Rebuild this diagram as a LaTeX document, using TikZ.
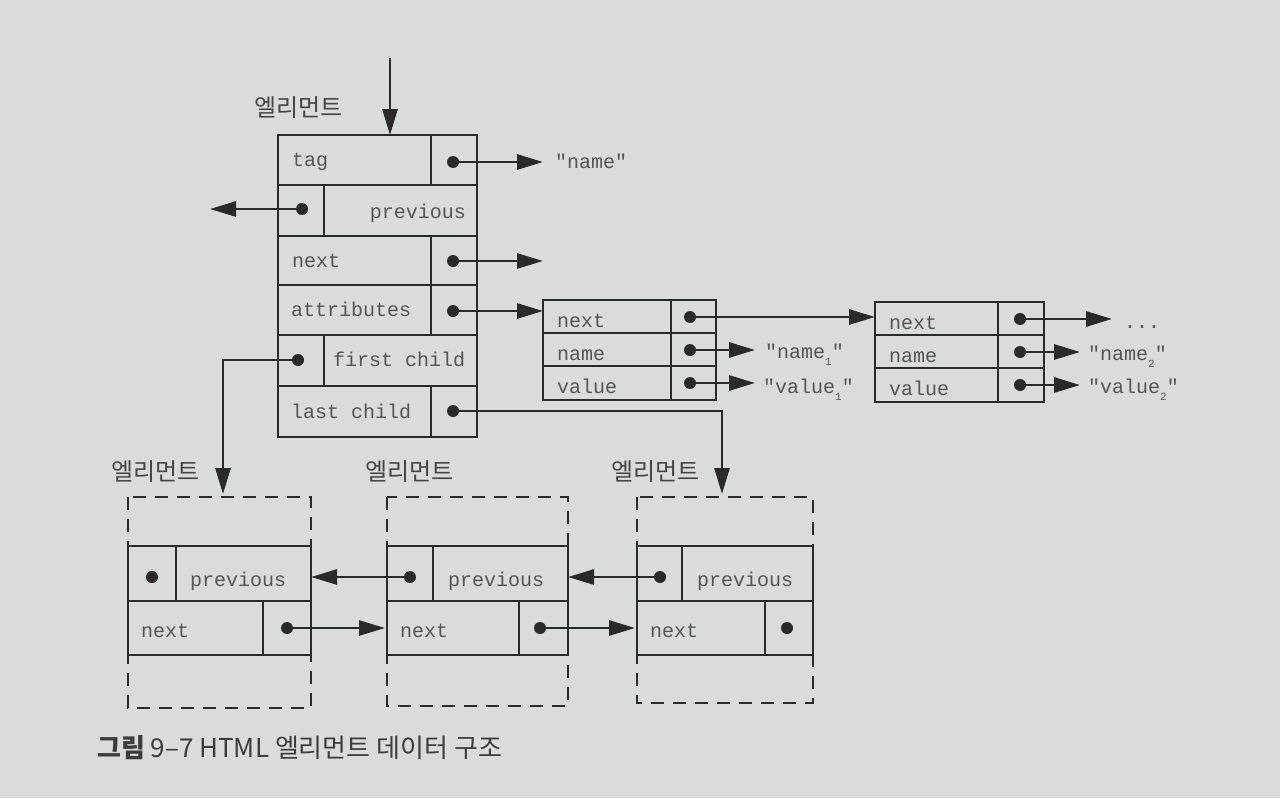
\documentclass[tikz,border=0pt]{standalone}
\usepackage{fontspec}
\setmonofont{Liberation Mono}
\newfontfamily\kr{Noto Sans CJK KR}
\usetikzlibrary{arrows.meta}
\definecolor{paper}{HTML}{D8DCDB}
\definecolor{ink}{HTML}{2A2A2A}
\definecolor{txt}{HTML}{555555}
\newcommand{\lowsub}[1]{\raisebox{-7pt}{\fontsize{11}{11}\selectfont #1}}
\begin{document}
\begin{tikzpicture}[x=1pt,y=-1pt,
  box/.style={draw=ink, line width=2.8pt},
  dbox/.style={draw=ink, line width=2.8pt, dash pattern=on 13pt off 9pt},
  lbl/.style={font=\ttfamily\fontsize{20}{20}\selectfont, text=txt, inner sep=0pt, anchor=base west},
  lblr/.style={lbl, anchor=base east},
  ptr/.style={draw=ink, line width=2.8pt, -{Triangle[length=26pt,width=15pt]}},
  dotc/.style={circle, fill=ink, inner sep=0pt, minimum size=12pt},
  kor/.style={font=\kr\fontsize{24}{24}\selectfont, text=ink!85!paper, inner sep=0pt, anchor=west}]

\fill[paper] (0,0) rectangle (1280,798);
\useasboundingbox (0,0) rectangle (1280,798);

% ---------- main element ----------
\node[kor] (mainlbl) at (254,108) {엘리먼트};
\draw[box] (278,135) rectangle (477,437);
\foreach \yy in {185,236,285,335,386} \draw[box] (278,\yy) -- (477,\yy);
\draw[box] (431,135) -- (431,185);
\draw[box] (324,185) -- (324,236);
\draw[box] (431,236) -- (431,335);
\draw[box] (324,335) -- (324,386);
\draw[box] (431,386) -- (431,437);
\node[lbl]  (ttag)   at (292,166) {tag};
\node[lblr] (tprev)  at (466,218) {previous};
\node[lbl]  (tnext)  at (292,267) {next};
\node[lbl]  (tattr)  at (291,316) {attributes};
\node[lbl]  (tfirst) at (333,366) {first child};
\node[lbl]  (tlast)  at (291,418) {last child};

\coordinate (entry) at (390,58);
\coordinate (maintop) at (390,135);
\draw[ptr] (entry) -- (maintop);

\node[dotc] (dtag)   at (453,162) {};
\node[dotc] (dprev)  at (302,209) {};
\node[dotc] (dnext)  at (453,261) {};
\node[dotc] (dattr)  at (453,311) {};
\node[dotc] (dfirst) at (298,360) {};
\node[dotc] (dlast)  at (453,411) {};

\node[lbl] (sname) at (555,168) {"name"};
\coordinate (tagend) at (543,162);
\draw[ptr] (dtag.center) -- (tagend);
\coordinate (prevend) at (210,209);
\draw[ptr] (dprev.center) -- (prevend);
\coordinate (nextend) at (543,261);
\draw[ptr] (dnext.center) -- (nextend);

% ---------- attribute 1 ----------
\draw[box] (543,300) rectangle (716,400);
\draw[box] (543,333) -- (716,333);
\draw[box] (543,366) -- (716,366);
\draw[box] (671,300) -- (671,400);
\node[lbl] (a1n) at (557,327) {next};
\node[lbl] (a1m) at (557,360) {name};
\node[lbl] (a1v) at (557,393) {value};
\node[dotc] (a1dn) at (690,317) {};
\node[dotc] (a1dm) at (690,350) {};
\node[dotc] (a1dv) at (690,383) {};
\coordinate (attrend) at (543,311);
\draw[ptr] (dattr.center) -- (attrend);
\node[lbl] (q1m) at (765,358) {"name\lowsub{1}"};
\node[lbl] (q1v) at (763,393) {"value\lowsub{1}"};
\draw[ptr] (a1dm.center) -- ([xshift=-10pt]q1m.west |- a1dm);
\draw[ptr] (a1dv.center) -- ([xshift=-8pt]q1v.west |- a1dv);

% ---------- attribute 2 ----------
\draw[box] (875,302) rectangle (1044,402);
\draw[box] (875,335) -- (1044,335);
\draw[box] (875,368) -- (1044,368);
\draw[box] (998,302) -- (998,402);
\node[lbl] (a2n) at (889,329) {next};
\node[lbl] (a2m) at (889,362) {name};
\node[lbl] (a2v) at (889,395) {value};
\node[dotc] (a2dn) at (1020,319) {};
\node[dotc] (a2dm) at (1020,352) {};
\node[dotc] (a2dv) at (1020,385) {};
\coordinate (a2left) at (875,317);
\draw[ptr] (a1dn.center) -- (a2left);
\node[lbl] (dots) at (1124,328) {...};
\node[lbl] (q2m) at (1088,360) {"name\lowsub{2}"};
\node[lbl] (q2v) at (1088,393) {"value\lowsub{2}"};
\coordinate (a2nend) at (1112,319);
\draw[ptr] (a2dn.center) -- (a2nend);
\draw[ptr] (a2dm.center) -- ([xshift=-8pt]q2m.west |- a2dm);
\draw[ptr] (a2dv.center) -- ([xshift=-8pt]q2v.west |- a2dv);

% ---------- child elements ----------
\node[kor] (c1lbl) at (111,472) {엘리먼트};
\node[kor] (c2lbl) at (365,472) {엘리먼트};
\node[kor] (c3lbl) at (611,472) {엘리먼트};

\draw[dbox] (128,497) rectangle (311,708);
\draw[dbox] (387,497) rectangle (568,706);
\draw[dbox] (637,497) rectangle (813,703);

\draw[box] (128,546) rectangle (311,655);
\draw[box] (128,601) -- (311,601);
\draw[box] (176,546) -- (176,601);
\draw[box] (263,601) -- (263,655);

\draw[box] (387,546) rectangle (568,655);
\draw[box] (387,601) -- (568,601);
\draw[box] (433,546) -- (433,601);
\draw[box] (519,601) -- (519,655);

\draw[box] (637,546) rectangle (813,655);
\draw[box] (637,601) -- (813,601);
\draw[box] (682,546) -- (682,601);
\draw[box] (765,601) -- (765,655);

\node[lbl] (c1p) at (190,586) {previous};
\node[lbl] (c2p) at (448,586) {previous};
\node[lbl] (c3p) at (697,586) {previous};
\node[lbl] (c1n) at (141,637) {next};
\node[lbl] (c2n) at (400,637) {next};
\node[lbl] (c3n) at (650,637) {next};

\node[dotc] (c1dp) at (152,577) {};
\node[dotc] (c2dp) at (410,577) {};
\node[dotc] (c3dp) at (660,577) {};
\node[dotc] (c1dn) at (287,628) {};
\node[dotc] (c2dn) at (540,628) {};
\node[dotc] (c3dn) at (787,628) {};

\coordinate (c1r) at (311,577);
\coordinate (c2r) at (568,577);
\coordinate (c2l) at (385,628);
\coordinate (c3l) at (635,628);
\draw[ptr] (c1dn.center) -- (c2l);
\draw[ptr] (c2dn.center) -- (c3l);
\draw[ptr] (c2dp.center) -- (c1r);
\draw[ptr] (c3dp.center) -- (c2r);

\coordinate (c1top) at (223,494);
\coordinate (c3top) at (722,494);
\draw[ptr] (dfirst.center) -- (223,360) -- (c1top);
\draw[ptr] (dlast.center) -- (722,411) -- (c3top);

% ---------- caption ----------
\node[font=\kr\fontsize{26}{26}\selectfont, text=ink!90!paper, inner sep=0pt, anchor=west] (cap) at (97,748) {{\bfseries 그림} 9–7 HTML 엘리먼트 데이터 구조};
\end{tikzpicture}
\end{document}
